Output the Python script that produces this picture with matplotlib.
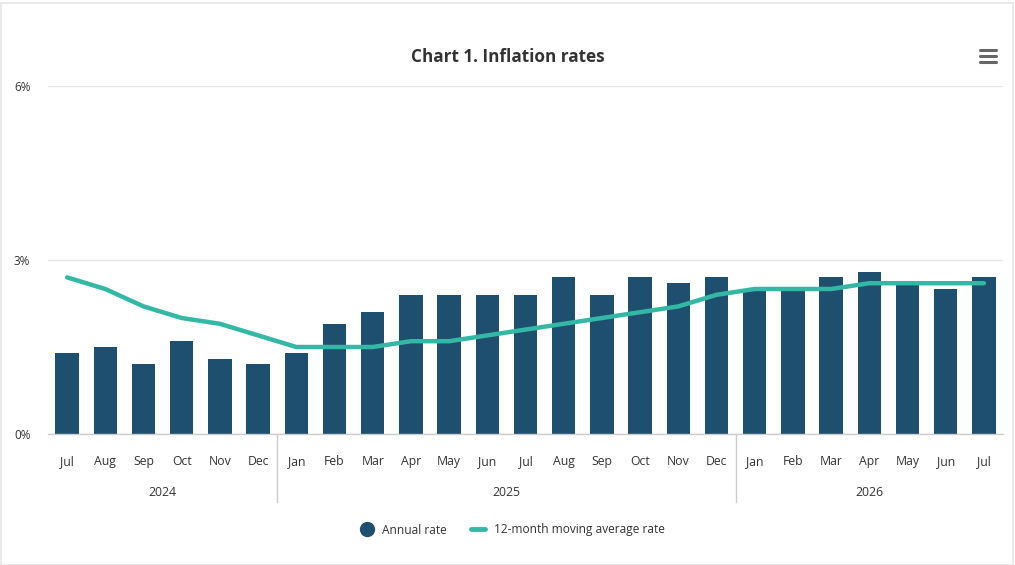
import matplotlib
matplotlib.use("Agg")
import matplotlib.pyplot as plt
from matplotlib.lines import Line2D
from matplotlib.patches import Rectangle
import matplotlib.transforms as mtransforms

months = ["Jul", "Aug", "Sep", "Oct", "Nov", "Dec",
          "Jan", "Feb", "Mar", "Apr", "May", "Jun", "Jul", "Aug", "Sep", "Oct", "Nov", "Dec",
          "Jan", "Feb", "Mar", "Apr", "May", "Jun", "Jul"]
years = ["2024", "2025", "2026"]
year_spans = [(0, 5), (6, 17), (18, 24)]
annual_rate = [1.4, 1.5, 1.2, 1.6, 1.3, 1.2,
               1.4, 1.9, 2.1, 2.4, 2.4, 2.4, 2.4, 2.7, 2.4, 2.7, 2.6, 2.7,
               2.5, 2.5, 2.7, 2.8, 2.6, 2.5, 2.7]
moving_avg = [2.7, 2.5, 2.2, 2.0, 1.9, 1.7,
              1.5, 1.5, 1.5, 1.6, 1.6, 1.7, 1.8, 1.9, 2.0, 2.1, 2.2, 2.4,
              2.5, 2.5, 2.5, 2.6, 2.6, 2.6, 2.6]
y_ticks = [0, 3, 6]
y_tick_labels = ["0%", "3%", "6%"]

BAR = "#1F4F6E"
LINE = "#33B8A5"
TXT = "#333333"
FONT = ["Open Sans", "DejaVu Sans"]
plt.rcParams["font.family"] = FONT

W, H = 1015, 565
fig = plt.figure(figsize=(W / 100, H / 100), dpi=100)
fig.patch.set_facecolor("white")
# light outer border
fig.add_artist(Rectangle((0.5 / W, 0.5 / H), 1012 / W, 562 / H, transform=fig.transFigure,
                         fill=False, edgecolor="#e6e6e6", linewidth=1.2))

left, right, top, bottom = 48, 1003, 86, 434
ax = fig.add_axes([left / W, 1 - bottom / H, (right - left) / W, (bottom - top) / H])
x = list(range(len(months)))
ax.bar(x, annual_rate, width=0.61, color=BAR, zorder=2)
ax.plot(x, moving_avg, color=LINE, linewidth=3.2, solid_capstyle="round",
        solid_joinstyle="round", zorder=3)

ax.set_xlim(-0.5, len(months) - 0.5)
ax.set_ylim(0, 6)
ax.set_yticks(y_ticks)
ax.set_yticklabels(y_tick_labels, ha="left")
ax.set_xticks(x)
ax.set_xticklabels(months)
ax.tick_params(axis="y", length=0, pad=24.5, labelsize=8.5, labelcolor=TXT)
ax.tick_params(axis="x", length=0, pad=15, labelsize=8.8, labelcolor=TXT)
ax.grid(axis="y", color="#e6e6e6", linewidth=1, zorder=0)
ax.set_axisbelow(True)
for s in ["top", "right", "left"]:
    ax.spines[s].set_visible(False)
ax.spines["bottom"].set_color("#cccccc")
ax.spines["bottom"].set_linewidth(1)

trans = mtransforms.blended_transform_factory(ax.transData, ax.transAxes)
ybot = -(502 - bottom) / (bottom - top)
yyear = -(492 - bottom) / (bottom - top)
for (a, b), yr in zip(year_spans, years):
    ax.text((a + b) / 2, yyear, yr, transform=trans, ha="center", va="center",
            fontsize=8.8, color=TXT)
for (a, b) in year_spans[1:]:
    ax.plot([a - 0.5, a - 0.5], [0, ybot], transform=trans, color="#cccccc",
            linewidth=1, clip_on=False)

fig.text(508 / W, 1 - 57 / H, "Chart 1. Inflation rates", ha="center", va="center",
         fontsize=12.3, fontweight="bold", color=TXT)

# menu icon
for yy in (50, 56, 62):
    fig.add_artist(Line2D([980 / W, 996 / W], [1 - yy / H, 1 - yy / H], transform=fig.transFigure,
                          color="#666666", linewidth=2.2, solid_capstyle="round"))

handles = [Line2D([], [], marker="o", linestyle="none", markersize=10, color=BAR),
           Line2D([], [], color=LINE, linewidth=3.5, solid_capstyle="round")]
fig.legend(handles, ["Annual rate", "12-month moving average rate"], loc="center",
           bbox_to_anchor=(512 / W, 1 - 530 / H), ncol=2, frameon=False, fontsize=8.6,
           handlelength=1.2, handletextpad=0.7, columnspacing=2.0, labelcolor=TXT)

fig.savefig("out.png", dpi=100, facecolor="white")
